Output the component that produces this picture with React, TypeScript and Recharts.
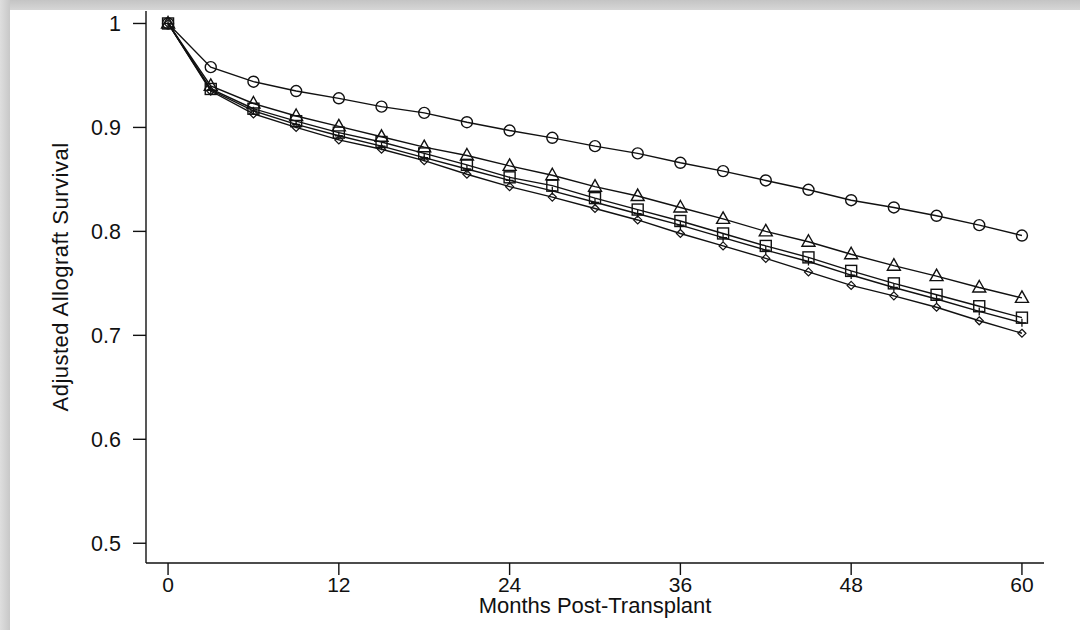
import { LineChart, Line, XAxis, YAxis, Label } from 'recharts'

const MONTHS = [0, 3, 6, 9, 12, 15, 18, 21, 24, 27, 30, 33, 36, 39, 42, 45, 48, 51, 54, 57, 60]
const CIRCLE = [1, 0.958, 0.944, 0.935, 0.928, 0.92, 0.914, 0.905, 0.897, 0.89, 0.882, 0.875, 0.866, 0.858, 0.849, 0.84, 0.83, 0.823, 0.815, 0.806, 0.796]
const TRIANGLE = [1, 0.94, 0.923, 0.911, 0.901, 0.891, 0.881, 0.873, 0.863, 0.854, 0.843, 0.834, 0.823, 0.812, 0.8, 0.79, 0.778, 0.767, 0.757, 0.746, 0.736]
const SQUARE = [1, 0.937, 0.918, 0.906, 0.895, 0.886, 0.875, 0.864, 0.852, 0.844, 0.832, 0.821, 0.81, 0.798, 0.786, 0.775, 0.762, 0.75, 0.739, 0.728, 0.717]
const PLUS = [1, 0.936, 0.916, 0.903, 0.892, 0.882, 0.871, 0.86, 0.849, 0.839, 0.828, 0.817, 0.806, 0.794, 0.782, 0.771, 0.758, 0.746, 0.735, 0.723, 0.712]
const DIAMOND = [1, 0.935, 0.913, 0.9, 0.888, 0.879, 0.868, 0.855, 0.843, 0.833, 0.822, 0.811, 0.798, 0.786, 0.774, 0.761, 0.748, 0.738, 0.727, 0.714, 0.702]
const X_TICKS = [0, 12, 24, 36, 48, 60]
const Y_TICKS = [0.5, 0.6, 0.7, 0.8, 0.9, 1]

const data = MONTHS.map((m, i) => ({
    month: m,
    circle: CIRCLE[i],
    triangle: TRIANGLE[i],
    square: SQUARE[i],
    plus: PLUS[i],
    diamond: DIAMOND[i],
}))

const INK = '#111'
const FONT = '"Liberation Sans", Arial, sans-serif'

const circleDot = (p: any) => (
    <circle key={`c${p.index}`} cx={p.cx} cy={p.cy} r={5.5} fill="none" stroke={INK} strokeWidth={1.4} />
)
const triangleDot = (p: any) => (
    <path key={`t${p.index}`} d={`M${p.cx},${p.cy - 7} L${p.cx + 6.5},${p.cy + 4.5} L${p.cx - 6.5},${p.cy + 4.5} Z`} fill="none" stroke={INK} strokeWidth={1.4} />
)
const squareDot = (p: any) => (
    <rect key={`s${p.index}`} x={p.cx - 5.5} y={p.cy - 5.5} width={11} height={11} fill="none" stroke={INK} strokeWidth={1.4} />
)
const plusDot = (p: any) => (
    <path key={`p${p.index}`} d={`M${p.cx - 4},${p.cy} H${p.cx + 4} M${p.cx},${p.cy - 4} V${p.cy + 4}`} fill="none" stroke={INK} strokeWidth={1.3} />
)
const diamondDot = (p: any) => (
    <path key={`d${p.index}`} d={`M${p.cx},${p.cy - 4} L${p.cx + 4},${p.cy} L${p.cx},${p.cy + 4} L${p.cx - 4},${p.cy} Z`} fill="none" stroke={INK} strokeWidth={1.2} />
)

// rotated y title, placed inside the axis box
const YTitle = ({ viewBox }: any) => {
    const cx = viewBox.x + 14
    const cy = viewBox.y + viewBox.height / 2 - 10
    return (
        <text x={cx} y={cy} transform={`rotate(-90 ${cx} ${cy})`} textAnchor="middle" dominantBaseline="central"
            fontSize={22} letterSpacing={0.5} fontFamily={FONT} fill={INK}>
            Adjusted Allograft Survival
        </text>
    )
}

export default function App() {
    return (
        <div style={{ position: 'absolute', left: 0, top: 0, width: 1087, height: 637, background: '#fff', overflow: 'hidden' }}>
            <div style={{ position: 'absolute', left: 0, top: 0, width: 1080, height: 10, background: 'linear-gradient(#c4c4c4, #d6d6d6)' }} />
            <div style={{ position: 'absolute', left: 0, top: 0, width: 10, height: 630, background: 'linear-gradient(90deg, #dedede, #c8c8c8)' }} />
            <div style={{ position: 'absolute', left: 0, top: 0 }}>
                <LineChart width={1087} height={637} data={data} margin={{ top: 11, right: 43, bottom: 0, left: 46 }}>
                    <XAxis dataKey="month" type="number" domain={[-1.55, 61.55]} ticks={X_TICKS} allowDataOverflow
                        height={74} tickSize={12} tickMargin={2}
                        axisLine={{ stroke: INK, strokeWidth: 1.4 }} tickLine={{ stroke: INK, strokeWidth: 1.4 }}
                        tick={{ fill: INK, fontSize: 21, fontFamily: FONT }}>
                        <Label value="Months Post-Transplant" position="insideBottom" offset={24}
                            style={{ fill: INK, fontSize: 22, fontFamily: FONT }} />
                    </XAxis>
                    <YAxis type="number" domain={[0.481, 1.012]} ticks={Y_TICKS} allowDataOverflow width={100}
                        tickSize={13} tickMargin={12}
                        axisLine={{ stroke: INK, strokeWidth: 1.4 }} tickLine={{ stroke: INK, strokeWidth: 1.4 }}
                        tick={{ fill: INK, fontSize: 21.5, fontFamily: FONT }}>
                        <Label content={YTitle} />
                    </YAxis>
                    <Line dataKey="circle" stroke={INK} strokeWidth={1.4} dot={circleDot} isAnimationActive={false} />
                    <Line dataKey="triangle" stroke={INK} strokeWidth={1.4} dot={triangleDot} isAnimationActive={false} />
                    <Line dataKey="square" stroke={INK} strokeWidth={1.4} dot={squareDot} isAnimationActive={false} />
                    <Line dataKey="plus" stroke={INK} strokeWidth={1.4} dot={plusDot} isAnimationActive={false} />
                    <Line dataKey="diamond" stroke={INK} strokeWidth={1.4} dot={diamondDot} isAnimationActive={false} />
                </LineChart>
            </div>
        </div>
    )
}
